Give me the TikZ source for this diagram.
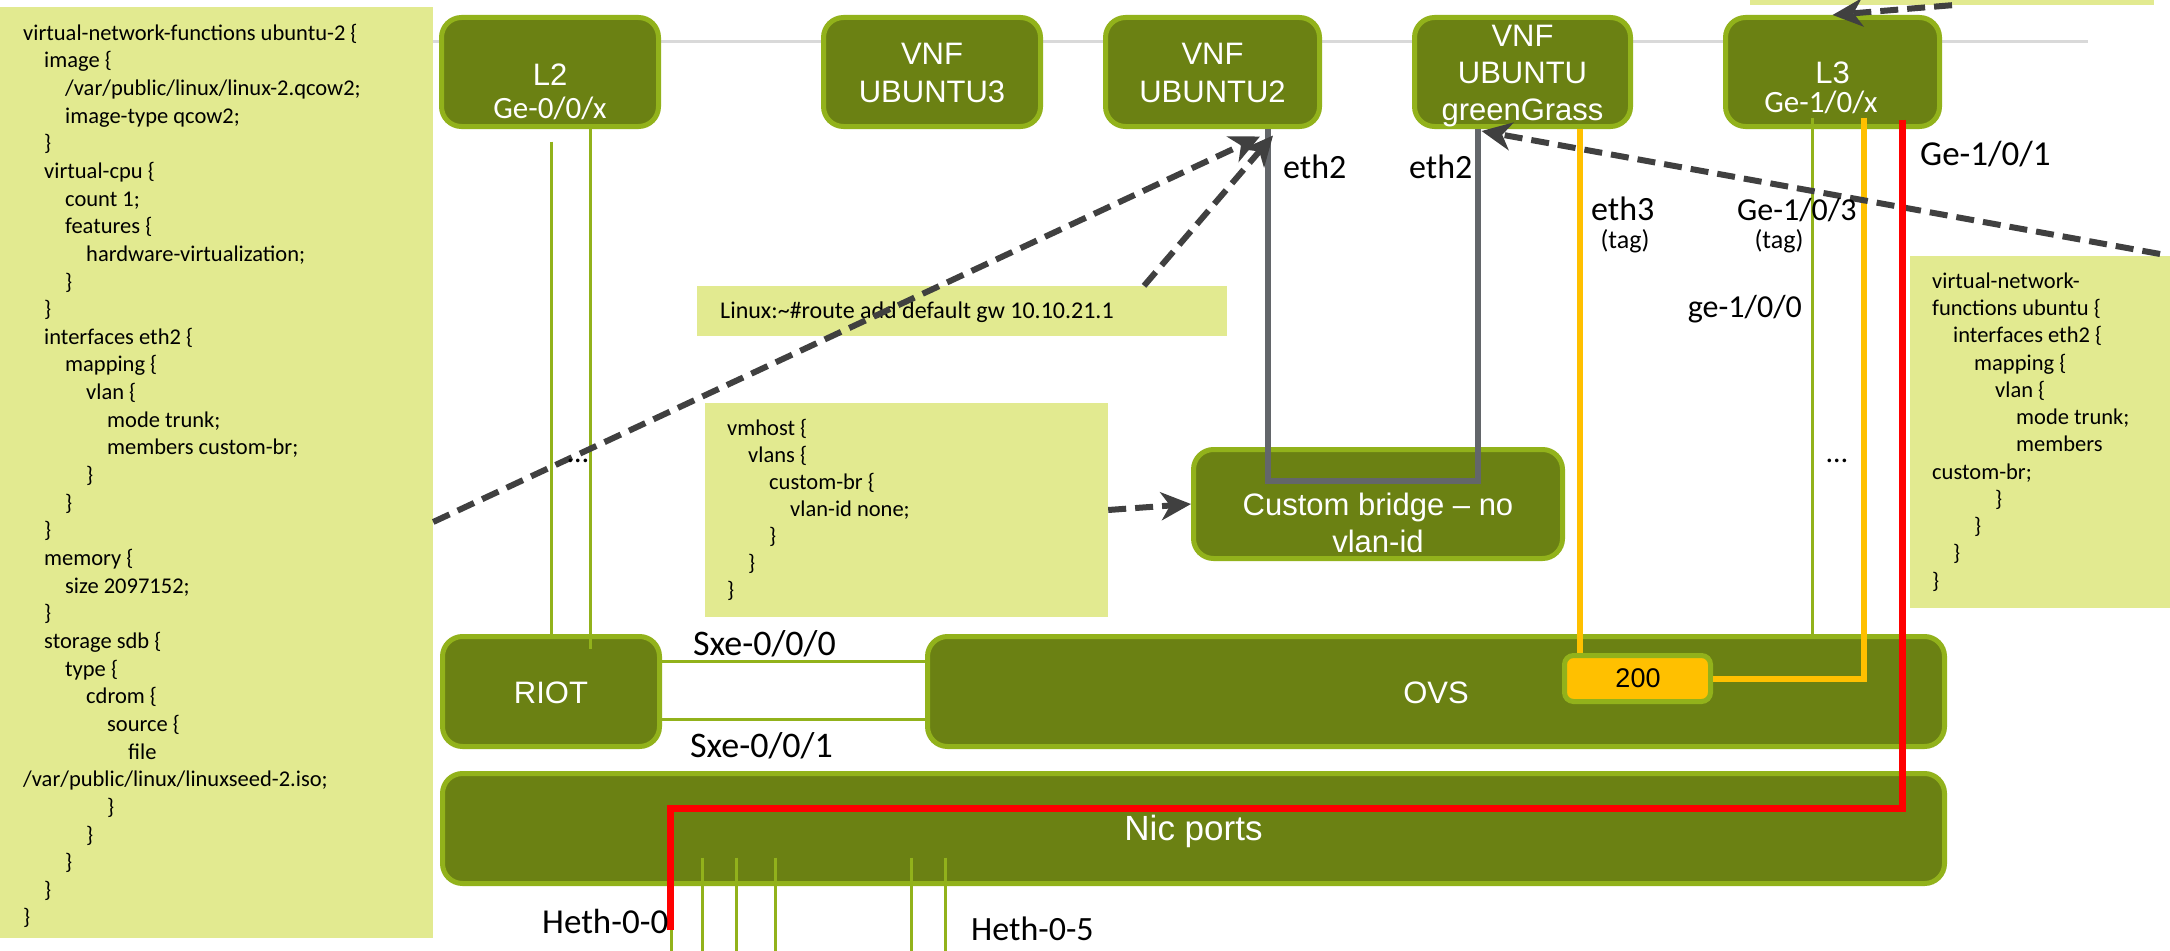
\documentclass[tikz,border=0pt]{standalone}
\usepackage{fontspec}
\setmainfont{Carlito}
\newfontfamily\sansA{Liberation Sans}
\newfontfamily\sansC{Carlito}
\usetikzlibrary{arrows.meta}

\definecolor{boxfill}{HTML}{6B8113}
\definecolor{boxedge}{HTML}{92B21B}
\definecolor{notefill}{HTML}{E2EA90}
\definecolor{railgray}{HTML}{D9D9D9}
\definecolor{linkgray}{HTML}{63666A}
\definecolor{dashgray}{HTML}{404040}
\definecolor{vlanyellow}{HTML}{FFC000}
\definecolor{pathred}{HTML}{FF0000}

% one line of configuration text, indented by #1 steps
\newlength\codeindent
\setlength\codeindent{21pt}
\newcommand\codeln[2]{\hbox{\hskip#1\codeindent\relax\strut #2}}

\begin{document}
\begin{tikzpicture}[x=1pt,y=-1pt,
  greenbox/.style={draw=boxedge, fill=boxfill, line width=5pt, rounded corners=20pt, inner sep=0pt},
  note/.style={fill=notefill, draw=none, inner sep=0pt},
  boxtext/.style={text=white, font=\sansA\fontsize{31}{37}\selectfont, inner sep=0pt, anchor=base},
  porttext/.style={text=white, font=\sansC\fontsize{31}{37}\selectfont, inner sep=0pt, anchor=base},
  lbl/.style={font=\sansC\fontsize{34}{40}\selectfont, inner sep=0pt, anchor=base west},
  lblsm/.style={font=\sansC\fontsize{32}{38}\selectfont, inner sep=0pt},
  tagtext/.style={font=\sansC\fontsize{26}{30}\selectfont, inner sep=0pt, anchor=base},
  cfgtext/.style={inner sep=0pt, anchor=north west},
  wire/.style={draw=boxedge, line width=3pt},
  ethlink/.style={draw=linkgray, line width=6pt},
  vlanlink/.style={draw=vlanyellow, line width=6pt},
  redpath/.style={draw=pathred, line width=7pt},
  cfgarrow/.style={draw=dashgray, line width=6pt, dash pattern=on 18pt off 9pt,
                   -{Stealth[length=30pt,width=28pt,inset=9pt]}},
]
\useasboundingbox (0,0) rectangle (2170,950);
\clip (0,0) rectangle (2170,950);
\fill[white] (0,0) rectangle (2170,950);

% rail behind the top row
\coordinate (railA) at (433,42);
\coordinate (railB) at (2088,42);
\draw[railgray, line width=3pt] (railA) -- (railB);

% configuration notes
\node[note, minimum width=433pt, minimum height=931pt] (codeL) at (216.5,472.5) {};
\node[note, minimum width=404pt, minimum height=40pt] (codeTR) at (1952,-15) {};
\node[note, minimum width=530pt, minimum height=50pt] (linux) at (962,311) {};
\node[note, minimum width=403pt, minimum height=214pt] (vmhost) at (906.5,510) {};
\node[note, minimum width=270pt, minimum height=352pt] (codeR) at (2045,432) {};

\node[cfgtext, font=\sansC\fontsize{22.5}{27.65}\selectfont] (codeLtxt) at (23,20.6) {\vbox{%
\codeln0{virtual-network-functions ubuntu-2 \{}
\codeln1{image \{}
\codeln2{/var/public/linux/linux-2.qcow2;}
\codeln2{image-type qcow2;}
\codeln1{\}}
\codeln1{virtual-cpu \{}
\codeln2{count 1;}
\codeln2{features \{}
\codeln3{hardware-virtualization;}
\codeln2{\}}
\codeln1{\}}
\codeln1{interfaces eth2 \{}
\codeln2{mapping \{}
\codeln3{vlan \{}
\codeln4{mode trunk;}
\codeln4{members custom-br;}
\codeln3{\}}
\codeln2{\}}
\codeln1{\}}
\codeln1{memory \{}
\codeln2{size 2097152;}
\codeln1{\}}
\codeln1{storage sdb \{}
\codeln2{type \{}
\codeln3{cdrom \{}
\codeln4{source \{}
\codeln5{file}
\codeln0{/var/public/linux/linuxseed-2.iso;}
\codeln4{\}}
\codeln3{\}}
\codeln2{\}}
\codeln1{\}}
\codeln0{\}}}};

\node[cfgtext, font=\sansC\fontsize{22.5}{27.27}\selectfont] (codeRtxt) at (1932,268.9) {\vbox{%
\codeln0{virtual-network-}
\codeln0{functions ubuntu \{}
\codeln1{interfaces eth2 \{}
\codeln2{mapping \{}
\codeln3{vlan \{}
\codeln4{mode trunk;}
\codeln4{members}
\codeln0{custom-br;}
\codeln3{\}}
\codeln2{\}}
\codeln1{\}}
\codeln0{\}}}};

\node[cfgtext, font=\sansC\fontsize{22.5}{27}\selectfont] (vmtxt) at (727,416.1) {\vbox{%
\codeln0{vmhost \{}
\codeln1{vlans \{}
\codeln2{custom-br \{}
\codeln3{vlan-id none;}
\codeln2{\}}
\codeln1{\}}
\codeln0{\}}}};

\node[anchor=base west, inner sep=0pt, font=\sansC\fontsize{24}{28}\selectfont] (linuxtxt) at (720,318)
  {Linux:\textasciitilde\#route add default gw 10.10.21.1};

% top row
\node[greenbox, minimum width=217pt, minimum height=109pt] (l2) at (550,72) {};
\node[greenbox, minimum width=217pt, minimum height=109pt] (u3) at (932,72) {};
\node[greenbox, minimum width=214pt, minimum height=109pt] (u2) at (1212.5,72) {};
\node[greenbox, minimum width=216pt, minimum height=109pt] (gg) at (1522.5,72) {};
\node[greenbox, minimum width=214pt, minimum height=109pt] (l3) at (1832.5,72) {};

\node[boxtext] (l2a) at (550,85) {L2};
\node[porttext] (l2b) at (550,118) {Ge-0/0/x};
\node[boxtext] (u3a) at (932,65) {VNF};
\node[boxtext] (u3b) at (932,102) {UBUNTU3};
\node[boxtext] (u2a) at (1212.5,65) {VNF};
\node[boxtext] (u2b) at (1212.5,102) {UBUNTU2};
\node[boxtext] (gga) at (1522.5,47) {VNF};
\node[boxtext] (ggb) at (1522.5,83) {UBUNTU};
\node[boxtext] (ggc) at (1522.5,120) {greenGrass};
\node[boxtext] (l3a) at (1832.5,84) {L3};
\node[porttext] (l3b) at (1821,112) {Ge-1/0/x};

% bridge, switching and ports
\node[greenbox, minimum width=369pt, minimum height=109pt] (bridge) at (1378,504) {};
\node[boxtext] (bra) at (1378,515) {Custom bridge – no};
\node[boxtext] (brb) at (1378,552) {vlan-id};

\node[greenbox, minimum width=217pt, minimum height=110pt] (riot) at (551,691.5) {};
\node[boxtext] (riottxt) at (551,703) {RIOT};
\node[greenbox, minimum width=1017pt, minimum height=110pt] (ovs) at (1436,691.5) {};
\node[boxtext] (ovstxt) at (1436,703) {OVS};
\node[greenbox, minimum width=1502pt, minimum height=110pt] (nic) at (1193.5,828.5) {};
\node[boxtext, font=\sansA\fontsize{35}{40}\selectfont] (nictxt) at (1193.5,840) {Nic ports};

% L2 uplinks
\coordinate (l2w1) at ([xshift=1pt,yshift=-12.5pt]l2.south);
\coordinate (l2w2) at ([xshift=40pt]l2.south);
\draw[wire] (l2w1) -- (l2w1 |- riot.north);
\draw[wire] (l2w2) -- ++(0,520);

% RIOT to OVS
\coordinate (sx0) at ([yshift=30.5pt]riot.east);
\coordinate (sx1) at ([yshift=-27.5pt]riot.east);
\draw[wire] (sx0) -- (sx0 -| ovs.west);
\draw[wire] (sx1) -- (sx1 -| ovs.west);

% L3 plain uplink
\coordinate (l3g) at ([xshift=-20.5pt,yshift=11.5pt]l3.south);
\draw[wire] (l3g) -- (l3g |- ovs.north);

% NIC port wires
\foreach \dx in {-522.5,-490.8,-457.2,-418.4,-281.7,-248}
  \draw[wire] ([xshift=\dx pt,yshift=28.5pt]nic.south) -- ++(0,120);

% eth2 pair through the custom bridge
\coordinate (u2e) at ([xshift=55.5pt]u2.south);
\coordinate (gge) at ([xshift=-44.5pt]gg.south);
\draw[ethlink] (u2e) -- ++(0,352) -| (gge);

% VLAN 200
\node[greenbox, fill=vlanyellow, rounded corners=9pt, minimum width=146pt, minimum height=46pt] (b200) at (1637.5,678.5) {};
\node[anchor=base, inner sep=0pt, font=\sansA\fontsize{27}{32}\selectfont] (b200txt) at (1638,687) {200};
\coordinate (e3top) at ([xshift=57.5pt]gg.south);
\draw[vlanlink] (e3top) -- (e3top |- b200.north);
\coordinate (l3y) at ([xshift=31.5pt,yshift=11.5pt]l3.south);
\draw[vlanlink] (l3y) |- (b200.east);

% configuration pointers
\coordinate (ggfrom) at (2160,254);
\draw[cfgarrow] ([yshift=-49.5pt]codeL.east) -- ([xshift=47.5pt,yshift=-7.5pt]u2.south);
\draw[cfgarrow] ([xshift=182pt]linux.north) -- ([xshift=60.5pt,yshift=-6.5pt]u2.south);
\draw[cfgarrow] (ggfrom) -- ([xshift=-41pt,yshift=-2pt]gg.south);
\draw[cfgarrow] (vmhost.east) -- (bridge.west);
\draw[cfgarrow] (codeTR.south) -- (l3.north);

% routed path to Heth-0-0
\coordinate (heth0) at (670,930);
\draw[redpath] ([xshift=69.5pt,yshift=9.5pt]l3.south) -- ++(0,689) -| (heth0);

% labels
\node[lbl] (eth2a) at (1283,178) {eth2};
\node[lbl] (eth2b) at (1409,178) {eth2};
\node[lbl] (eth3) at (1591,220) {eth3};
\node[tagtext] (tag3) at (1625,248) {(tag)};
\node[lblsm, anchor=base west] (ge103) at (1737,220) {Ge-1/0/3};
\node[tagtext] (tag103) at (1779,248) {(tag)};
\node[lblsm, anchor=base east] (ge100) at (1802,317) {ge-1/0/0};
\node[lbl, font=\sansC\fontsize{35}{40}\selectfont] (ge101) at (1920,165) {Ge-1/0/1};
\node[lbl, font=\sansC\fontsize{36}{40}\selectfont] (sxe0) at (693,655) {Sxe-0/0/0};
\node[lbl, font=\sansC\fontsize{36}{40}\selectfont] (sxe1) at (690,757) {Sxe-0/0/1};
\node[lbl, font=\sansC\fontsize{35}{40}\selectfont] (heth00) at (542,933) {Heth-0-0};
\node[lbl] (heth05) at (971,940) {Heth-0-5};
\node[anchor=base, inner sep=0pt, font=\sansC\fontsize{30}{34}\selectfont] (dotsL) at (578,462) {\ldots};
\node[anchor=base, inner sep=0pt, font=\sansC\fontsize{30}{34}\selectfont] (dotsR) at (1837,462) {\ldots};
\end{tikzpicture}
\end{document}
